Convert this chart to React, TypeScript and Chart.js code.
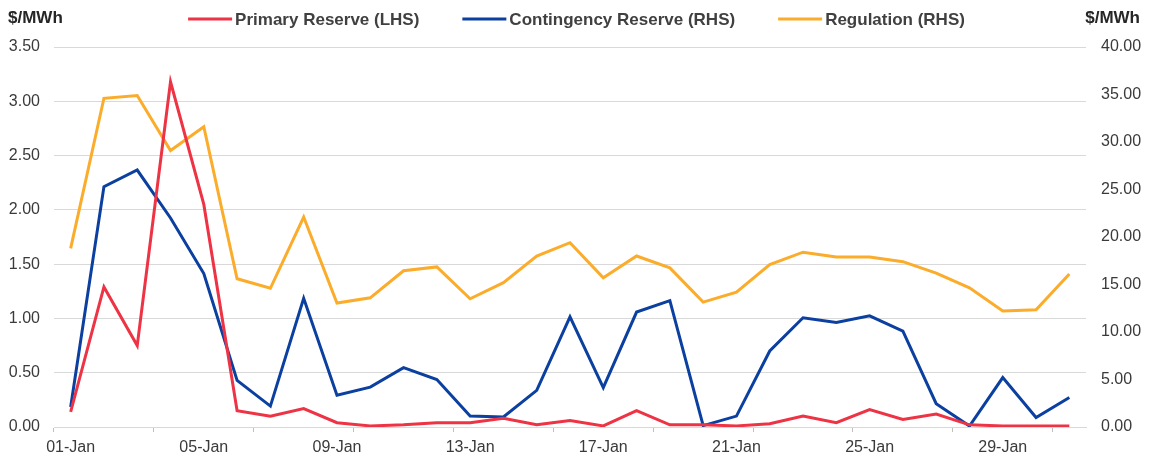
import React, { useEffect, useRef } from "react";
import { Chart, registerables } from "chart.js";

Chart.register(...registerables);

const days: string[] = [
  "01-Jan", "02-Jan", "03-Jan", "04-Jan", "05-Jan", "06-Jan", "07-Jan", "08-Jan",
  "09-Jan", "10-Jan", "11-Jan", "12-Jan", "13-Jan", "14-Jan", "15-Jan", "16-Jan",
  "17-Jan", "18-Jan", "19-Jan", "20-Jan", "21-Jan", "22-Jan", "23-Jan", "24-Jan",
  "25-Jan", "26-Jan", "27-Jan", "28-Jan", "29-Jan", "30-Jan", "31-Jan",
];

const primaryReserve: number[] = [
  0.14, 1.29, 0.75, 3.18, 2.05, 0.15, 0.1, 0.17, 0.04, 0.01, 0.02, 0.04, 0.04, 0.08, 0.02, 0.06,
  0.01, 0.15, 0.02, 0.02, 0.01, 0.03, 0.1, 0.04, 0.16, 0.07, 0.12, 0.02, 0.01, 0.01, 0.01,
];

const contingencyReserve: number[] = [
  2.1, 25.3, 27.05, 22.0, 16.15, 4.9, 2.2, 13.55, 3.35, 4.2, 6.25, 5.0, 1.15, 1.05, 3.85, 11.6,
  4.15, 12.1, 13.3, 0.15, 1.15, 8.0, 11.5, 11.0, 11.7, 10.1, 2.45, 0.1, 5.2, 1.0, 3.1,
];

const regulation: number[] = [
  18.8, 34.6, 34.9, 29.1, 31.6, 15.6, 14.6, 22.1, 13.05, 13.6, 16.45, 16.85, 13.5, 15.2, 18.0, 19.4,
  15.7, 18.0, 16.75, 13.15, 14.2, 17.1, 18.4, 17.9, 17.9, 17.4, 16.2, 14.65, 12.2, 12.35, 16.1,
];

const seriesNames: string[] = ["Primary Reserve (LHS)", "Contingency Reserve (RHS)", "Regulation (RHS)"];
const seriesColors: string[] = ["#EE3344", "#0B40A0", "#FBAC2A"];
const unitLabel = "$/MWh";

const FONT = "'Liberation Sans', Arial, sans-serif";

const overlayPlugin = {
  id: "overlay",
  afterDraw(chart: any) {
    const ctx = chart.ctx as CanvasRenderingContext2D;
    const W = chart.width;
    ctx.save();
    // unit titles
    ctx.font = `bold 17px ${FONT}`;
    ctx.fillStyle = "#262626";
    ctx.textBaseline = "middle";
    ctx.textAlign = "left";
    ctx.fillText(unitLabel, 8, 18);
    ctx.textAlign = "right";
    ctx.fillText(unitLabel, W - 13, 18);
    // legend
    ctx.font = `bold 17px ${FONT}`;
    const lineLen = 44;
    const gap = 3;
    const itemGap = 43;
    const widths = seriesNames.map((n) => lineLen + gap + ctx.measureText(n).width);
    const total = widths.reduce((a, b) => a + b, 0) + itemGap * (widths.length - 1);
    let x = W / 2 - total / 2;
    const y = 19;
    seriesNames.forEach((name, i) => {
      ctx.strokeStyle = seriesColors[i];
      ctx.lineWidth = 3;
      ctx.beginPath();
      ctx.moveTo(x, y);
      ctx.lineTo(x + lineLen, y);
      ctx.stroke();
      ctx.fillStyle = "#404040";
      ctx.textAlign = "left";
      ctx.fillText(name, x + lineLen + gap, y + 1);
      x += widths[i] + itemGap;
    });
    ctx.restore();
  },
};

export default function App() {
  const canvasRef = useRef<HTMLCanvasElement | null>(null);

  useEffect(() => {
    if (!canvasRef.current) return;
    const tickFont = { family: FONT, size: 16 };
    const chart = new Chart(canvasRef.current, {
      type: "line",
      data: {
        labels: days,
        datasets: [
          {
            label: seriesNames[0],
            data: primaryReserve,
            borderColor: seriesColors[0],
            backgroundColor: seriesColors[0],
            borderWidth: 3,
            pointRadius: 0,
            tension: 0,
            yAxisID: "yL",
          },
          {
            label: seriesNames[1],
            data: contingencyReserve,
            borderColor: seriesColors[1],
            backgroundColor: seriesColors[1],
            borderWidth: 3,
            pointRadius: 0,
            tension: 0,
            yAxisID: "yR",
          },
          {
            label: seriesNames[2],
            data: regulation,
            borderColor: seriesColors[2],
            backgroundColor: seriesColors[2],
            borderWidth: 3,
            pointRadius: 0,
            tension: 0,
            yAxisID: "yR",
          },
        ],
      },
      options: {
        animation: false,
        responsive: false,
        maintainAspectRatio: false,
        layout: { padding: { top: 47, left: 0, right: 0, bottom: 0 } },
        plugins: {
          legend: { display: false },
          tooltip: { enabled: false },
          title: { display: false },
        },
        scales: {
          x: {
            type: "category",
            offset: true,
            grid: {
              display: true,
              offset: true,
              drawOnChartArea: false,
              drawTicks: true,
              tickLength: 5,
              color: (c: any) =>
                typeof c.index === "number" && c.index % 3 === 0 ? "#bfbfbf" : "rgba(0,0,0,0)",
            },
            border: { display: true, color: "#d9d9d9", width: 1 },
            ticks: {
              autoSkip: false,
              maxRotation: 0,
              minRotation: 0,
              padding: 6,
              color: "#3a3a3a",
              font: tickFont,
              callback: (_v: any, i: number) => (i % 4 === 0 ? days[i] : ""),
            },
            afterFit: (s: any) => {
              s.height = 32;
            },
          },
          yL: {
            type: "linear",
            position: "left",
            min: 0,
            max: 3.5,
            grid: { color: "#d9d9d9", drawTicks: false, lineWidth: 1 },
            border: { display: false },
            ticks: {
              stepSize: 0.5,
              padding: 14,
              color: "#3a3a3a",
              font: tickFont,
              callback: (v: any) => Number(v).toFixed(2),
            },
            afterFit: (s: any) => {
              s.width = 54;
            },
          },
          yR: {
            type: "linear",
            position: "right",
            min: 0,
            max: 40,
            grid: { display: false, drawTicks: false },
            border: { display: false },
            ticks: {
              stepSize: 5,
              padding: 15,
              color: "#3a3a3a",
              font: tickFont,
              callback: (v: any) => Number(v).toFixed(2),
            },
            afterFit: (s: any) => {
              s.width = 67;
            },
          },
        },
      },
      plugins: [overlayPlugin],
    });
    return () => chart.destroy();
  }, []);

  return (
    <div style={{ position: "fixed", left: 0, top: 0, width: 1153, height: 459, background: "#fff" }}>
      <canvas ref={canvasRef} width={1153} height={459} style={{ width: 1153, height: 459 }} />
    </div>
  );
}
